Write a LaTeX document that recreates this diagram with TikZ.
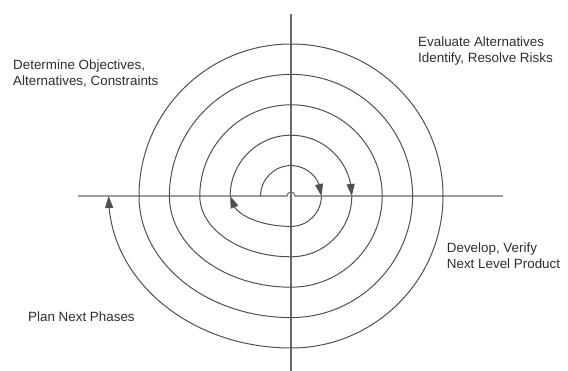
\documentclass[tikz,border=0pt]{standalone}
\usepackage{fontspec}
\setmainfont{Liberation Sans}
\usetikzlibrary{arrows.meta,bending}
\definecolor{linegray}{HTML}{505050}
\definecolor{axisgray}{HTML}{6A6A6A}
\definecolor{textgray}{HTML}{2E2E2E}
\tikzset{
  spiral/.style={draw=linegray, line width=1pt},
  arrowed/.style={spiral, -{Triangle[length=12pt,width=8pt,flex]}},
  axisline/.style={draw=axisgray, line width=1.1pt},
  label/.style={font=\fontsize{13.4}{16.3}\selectfont, text=textgray, align=left, inner sep=0pt, anchor=base west}
}
\begin{document}
\begin{tikzpicture}[x=1pt,y=1pt]
\useasboundingbox (-291,-175) rectangle (277,196);
% axes
\coordinate (L) at (-213,0);
\coordinate (R) at (212,0);
\coordinate (T) at (0,182);
\coordinate (B) at (0,-175);
\draw[axisline] (T) -- (B);
\draw[axisline] (L) -- (-4,0) arc[start angle=180,end angle=0,radius=4] -- (R);
% spiral
\def\ra{30.4}\def\rb{60.8}\def\rc{91.2}\def\rd{121.6}\def\re{152}\def\rf{182.4}
\draw[arrowed] (-\ra,0) arc[start angle=180,end angle=0,radius=\ra];
\draw[arrowed] (\ra,0) arc[start angle=0,end angle=-90,radius=\ra]
  arc[start angle=-90,end angle=-180,x radius=\rb,y radius=\ra];
\draw[arrowed] (-\rb,0) arc[start angle=180,end angle=0,radius=\rb];
\draw[spiral] (\rb,0) arc[start angle=0,end angle=-90,radius=\rb]
  arc[start angle=-90,end angle=-180,x radius=\rc,y radius=\rb]
  arc[start angle=180,end angle=0,radius=\rc]
  arc[start angle=0,end angle=-90,radius=\rc]
  arc[start angle=-90,end angle=-180,x radius=\rd,y radius=\rc]
  arc[start angle=180,end angle=0,radius=\rd]
  arc[start angle=0,end angle=-90,radius=\rd]
  arc[start angle=-90,end angle=-180,x radius=\re,y radius=\rd]
  arc[start angle=180,end angle=0,radius=\re];
\draw[arrowed] (\re,0) arc[start angle=0,end angle=-90,radius=\re]
  arc[start angle=-90,end angle=-180,x radius=\rf,y radius=\re];
% labels
\node[label] (det) at (-278,110) {Determine Objectives,\\Alternatives, Constraints};
\node[label] (eva) at (127,133) {Evaluate Alternatives\\Identify, Resolve Risks};
\node[label] (dev) at (155.7,-73) {Develop, Verify\\Next Level Product};
\node[label] (plan) at (-263,-125.7) {Plan Next Phases};
\end{tikzpicture}
\end{document}
